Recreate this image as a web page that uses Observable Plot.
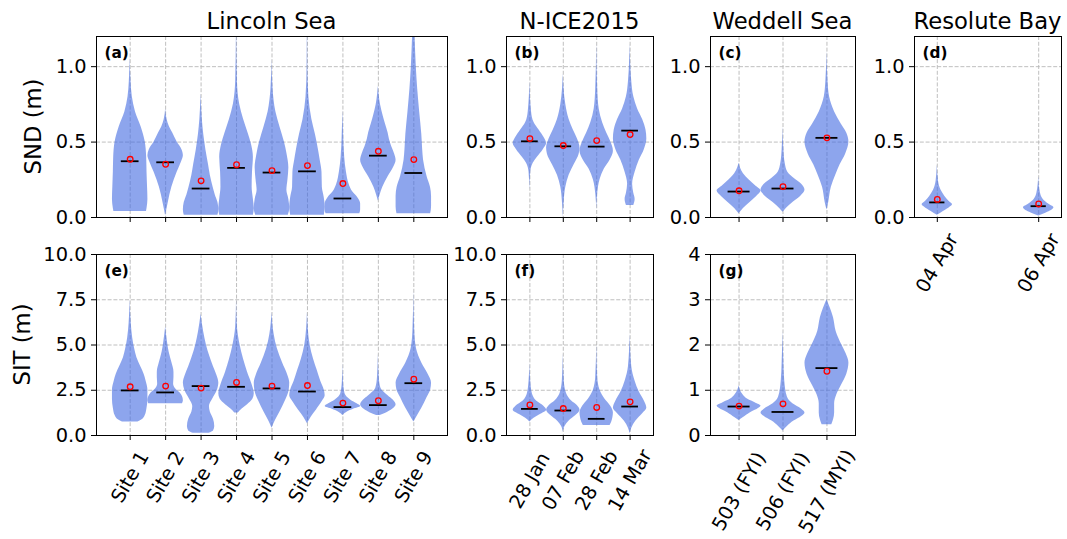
<!DOCTYPE html>
<html><head><meta charset="utf-8">
<script src="https://cdn.jsdelivr.net/npm/d3@7"></script>
<script src="https://cdn.jsdelivr.net/npm/@observablehq/plot@0.6"></script>
<style>
body{margin:0;background:#fff;}
#fig{position:relative;width:1067px;height:539px;overflow:hidden;font-family:"DejaVu Sans",sans-serif;background:#fff;}
#fig svg{position:absolute;overflow:visible;}
</style></head><body><div id="fig"></div>
<script>
// ---------------- data ----------------
const lincolnSites = ["Site 1","Site 2","Site 3","Site 4","Site 5","Site 6","Site 7","Site 8","Site 9"];
const niceDates = ["28 Jan","07 Feb","28 Feb","14 Mar"];
const weddellBuoys = ["503 (FYI)","506 (FYI)","517 (MYI)"];
const resoluteDates = ["04 Apr","06 Apr"];

const sndTicks = [0, 0.5, 1.0];
const sitTicks = [0, 2.5, 5.0, 7.5, 10.0];
const weddellSitTicks = [0, 1, 2, 3, 4];

// medians / means
const lincolnSndMedian = [0.373,0.366,0.192,0.329,0.298,0.306,0.126,0.410,0.295];
const lincolnSndMean   = [0.386,0.353,0.243,0.350,0.311,0.344,0.225,0.439,0.384];
const niceSndMedian = [0.505,0.472,0.470,0.576];
const niceSndMean   = [0.523,0.477,0.510,0.550];
const weddellSndMedian = [0.172,0.192,0.528];
const weddellSndMean   = [0.177,0.205,0.528];
const resoluteSndMedian = [0.100,0.075];
const resoluteSndMean   = [0.120,0.090];
const lincolnSitMedian = [2.49,2.38,2.73,2.69,2.60,2.43,1.57,1.68,2.89];
const lincolnSitMean   = [2.69,2.73,2.62,2.93,2.73,2.76,1.79,1.92,3.11];
const niceSitMedian = [1.47,1.38,0.92,1.60];
const niceSitMean   = [1.69,1.49,1.55,1.86];
const weddellSitMedian = [0.64,0.52,1.49];
const weddellSitMean   = [0.65,0.70,1.42];

// violin outlines: [value, relative half-width (1 = widest)]
const lincolnSndShape = [
  [[0.04,0.92],[0.06,0.95],[0.12,1.0],[0.2,0.98],[0.3,0.95],[0.4,0.93],[0.5,0.85],[0.6,0.62],[0.7,0.3],[0.8,0.12],[0.9,0.05],[1.06,0]],
  [[0.01,0],[0.1,0.15],[0.2,0.35],[0.3,0.65],[0.37,0.9],[0.41,1.0],[0.45,0.92],[0.5,0.65],[0.56,0.4],[0.6,0.22],[0.65,0.08],[0.72,0]],
  [[0.015,0.95],[0.05,1.0],[0.1,0.95],[0.15,0.8],[0.2,0.68],[0.28,0.52],[0.35,0.42],[0.45,0.27],[0.55,0.15],[0.65,0.07],[0.82,0]],
  [[0.015,0.95],[0.06,1.0],[0.12,0.95],[0.2,0.88],[0.3,0.9],[0.4,0.95],[0.48,0.85],[0.56,0.65],[0.65,0.4],[0.75,0.18],[0.9,0.05],[1.2,0.01]],
  [[0.015,0.92],[0.06,1.0],[0.12,0.95],[0.18,0.84],[0.25,0.9],[0.33,0.95],[0.42,0.85],[0.5,0.7],[0.6,0.45],[0.7,0.22],[0.85,0.06],[1.05,0]],
  [[0.015,0.95],[0.07,1.0],[0.13,0.95],[0.2,0.84],[0.3,0.82],[0.38,0.72],[0.45,0.62],[0.55,0.45],[0.65,0.25],[0.8,0.08],[1.0,0.02],[1.2,0.01]],
  [[0.025,0.95],[0.05,1.0],[0.09,1.0],[0.13,0.85],[0.17,0.55],[0.22,0.35],[0.3,0.2],[0.4,0.1],[0.55,0.04],[0.71,0]],
  [[0.11,0],[0.15,0.1],[0.2,0.25],[0.27,0.55],[0.33,0.85],[0.38,1.0],[0.42,0.92],[0.47,0.75],[0.52,0.62],[0.56,0.55],[0.62,0.4],[0.67,0.28],[0.75,0.12],[0.87,0]],
  [[0.025,0.95],[0.07,1.0],[0.14,1.0],[0.2,0.94],[0.27,0.75],[0.38,0.55],[0.45,0.5],[0.55,0.45],[0.7,0.33],[0.85,0.22],[1.0,0.14],[1.2,0.07]]
];
const niceSndShape = [
  [[0.18,0],[0.3,0.05],[0.36,0.2],[0.4,0.45],[0.45,0.8],[0.49,1.0],[0.53,0.85],[0.58,0.55],[0.63,0.25],[0.7,0.1],[0.9,0]],
  [[0.0,0],[0.1,0.05],[0.2,0.15],[0.28,0.35],[0.35,0.65],[0.42,0.95],[0.46,1.0],[0.52,0.85],[0.58,0.6],[0.65,0.35],[0.75,0.15],[0.95,0]],
  [[0.05,0],[0.15,0.05],[0.25,0.2],[0.32,0.45],[0.38,0.8],[0.44,1.0],[0.5,0.85],[0.56,0.6],[0.63,0.35],[0.72,0.15],[0.85,0.06],[1.15,0]],
  [[0.08,0.22],[0.12,0.3],[0.16,0.22],[0.22,0.15],[0.3,0.3],[0.38,0.55],[0.45,0.85],[0.52,1.0],[0.58,0.95],[0.65,0.75],[0.72,0.45],[0.8,0.22],[0.9,0.1],[1.15,0]]
];
const weddellSndShape = [
  [[0.025,0],[0.06,0.2],[0.1,0.5],[0.14,0.8],[0.175,1.0],[0.21,0.75],[0.25,0.45],[0.29,0.2],[0.33,0.06],[0.36,0]],
  [[0.035,0],[0.06,0.15],[0.1,0.45],[0.14,0.8],[0.18,1.0],[0.22,0.85],[0.26,0.5],[0.3,0.22],[0.36,0.1],[0.45,0.04],[0.6,0]],
  [[0.05,0],[0.1,0.08],[0.2,0.2],[0.28,0.4],[0.35,0.6],[0.42,0.85],[0.5,1.0],[0.56,0.9],[0.62,0.65],[0.7,0.35],[0.8,0.12],[0.9,0.05],[1.1,0]]
];
const resoluteSndShape = [
  [[0.015,0],[0.04,0.4],[0.07,0.85],[0.085,1.0],[0.11,0.75],[0.14,0.5],[0.18,0.25],[0.24,0.08],[0.35,0]],
  [[0.01,0],[0.03,0.5],[0.065,1.0],[0.09,0.65],[0.12,0.3],[0.16,0.12],[0.27,0]]
];
const lincolnSitShape = [
  [[0.74,0.44],[0.85,0.65],[1.1,0.85],[1.5,0.95],[2.0,1.0],[2.5,1.0],[3.0,0.9],[3.4,0.78],[3.8,0.6],[4.3,0.38],[4.8,0.25],[5.4,0.14],[6.2,0.06],[7.5,0]],
  [[1.75,0.95],[1.9,1.0],[2.1,0.97],[2.35,0.82],[2.6,0.55],[2.85,0.45],[3.2,0.47],[3.5,0.47],[4.0,0.36],[4.6,0.2],[5.2,0.1],[6.0,0]],
  [[0.13,0.45],[0.25,0.7],[0.5,0.77],[0.9,0.7],[1.3,0.52],[1.6,0.47],[2.0,0.65],[2.5,0.92],[2.9,1.0],[3.3,0.9],[3.8,0.7],[4.4,0.48],[5.0,0.3],[5.7,0.15],[6.7,0]],
  [[1.25,0.1],[1.45,0.3],[1.7,0.62],[2.0,0.92],[2.3,1.0],[2.8,0.88],[3.5,0.62],[4.2,0.4],[5.0,0.2],[6.0,0.05],[7.5,0]],
  [[0.4,0],[0.8,0.18],[1.3,0.45],[1.9,0.75],[2.5,0.97],[2.9,1.0],[3.3,0.9],[4.0,0.6],[4.8,0.3],[5.6,0.12],[6.8,0]],
  [[0.65,0],[1.0,0.2],[1.4,0.5],[1.9,0.85],[2.2,1.0],[2.5,0.95],[3.0,0.75],[3.6,0.55],[4.2,0.35],[5.0,0.15],[6.8,0]],
  [[1.1,0],[1.3,0.25],[1.45,0.6],[1.6,1.0],[1.75,0.8],[1.95,0.45],[2.3,0.12],[3.0,0.03],[4.0,0]],
  [[1.1,0.1],[1.25,0.45],[1.45,0.8],[1.7,1.0],[1.95,0.85],[2.2,0.55],[2.6,0.15],[3.2,0.05],[4.5,0]],
  [[0.75,0],[1.0,0.15],[1.5,0.45],[2.1,0.75],[2.5,0.95],[2.9,1.0],[3.4,0.8],[4.0,0.45],[4.8,0.15],[5.8,0.05],[8.0,0]]
];
const niceSitShape = [
  [[0.75,0],[0.95,0.25],[1.15,0.6],[1.4,1.0],[1.6,0.85],[1.9,0.4],[2.3,0.15],[3.0,0.05],[4.0,0]],
  [[0.18,0],[0.5,0.1],[0.8,0.35],[1.1,0.75],[1.4,1.0],[1.65,0.85],[1.9,0.5],[2.3,0.2],[3.0,0.06],[4.5,0]],
  [[0.55,0.8],[0.75,0.9],[1.0,0.97],[1.25,1.0],[1.6,0.85],[2.0,0.5],[2.5,0.2],[3.2,0.06],[5.0,0]],
  [[0.1,0],[0.4,0.1],[0.8,0.35],[1.2,0.75],[1.5,1.0],[1.9,0.85],[2.4,0.55],[3.0,0.3],[3.8,0.1],[5.6,0]]
];
const weddellSitShape = [
  [[0.33,0],[0.4,0.2],[0.5,0.5],[0.6,0.9],[0.65,1.0],[0.72,0.75],[0.8,0.4],[0.9,0.18],[1.1,0]],
  [[0.1,0],[0.2,0.2],[0.32,0.5],[0.42,0.85],[0.5,1.0],[0.58,0.85],[0.7,0.45],[0.85,0.2],[1.2,0.08],[1.6,0.04],[2.3,0]],
  [[0.24,0.22],[0.35,0.3],[0.5,0.35],[0.7,0.35],[0.9,0.45],[1.1,0.65],[1.35,0.9],[1.6,1.0],[1.8,0.88],[2.0,0.68],[2.3,0.42],[2.6,0.3],[3.0,0]]
];

// ---------------- drawing ----------------
const fig = document.getElementById("fig");
const FS = 19.4;

function panel(o) {
  const pos = o.cats.map((_, i) => i + 1);
  const rows = o.shapes.flatMap((s, i) => s.map(([v, r]) => ({i, p: i + 1, v, r})));
  const mL = 70, mR = 12, mT = 10, mB = 130;
  const vw = o.vw;
  const marks = [
    Plot.ruleY(o.yTicks, {y: d => d, stroke: "#b8b8b8", strokeDasharray: "4,1.8", strokeWidth: 0.9}),
    Plot.ruleX(pos, {x: d => d, stroke: "#b8b8b8", strokeDasharray: "4,1.8", strokeWidth: 0.9}),
    Plot.areaX(rows, {y: "v", x1: d => d.p - d.r * vw / 2, x2: d => d.p + d.r * vw / 2, z: "i",
      fill: "royalblue", fillOpacity: 0.6, curve: "monotone-y", clip: true}),
    Plot.ruleY(o.medians, {y: d => d, x1: (d, i) => i + 1 - vw / 4, x2: (d, i) => i + 1 + vw / 4, stroke: "black", strokeWidth: 1.8}),
    Plot.dot(o.means, {x: (d, i) => i + 1, y: d => d, r: 2.8, stroke: "red", fill: "none", strokeWidth: 1.3}),
    Plot.frame({stroke: "black", strokeWidth: 1}),
    Plot.axisY({ticks: o.yTicks, tickFormat: o.yFmt, tickSize: 5, tickPadding: 5, label: null, fontSize: FS}),
    Plot.axisX({ticks: pos, tickSize: 5, tickFormat: () => "", label: null}),
    Plot.text([o.label], {frameAnchor: "top-left", dx: 8, dy: o.labelDy, textAnchor: "start", lineAnchor: "top",
      fontWeight: "bold", fontSize: 15.3, fill: "black"})
  ];
  if (o.xLabels) marks.push(Plot.text(o.cats, {x: (d, i) => i + 1, text: d => d, frameAnchor: "bottom", rotate: -60,
    textAnchor: "middle", lineAnchor: "middle", dy: o.xLabelDy, fontSize: FS, fill: "black"}));
  const chart = Plot.plot({
    width: o.w + mL + mR, height: o.h + mT + mB,
    marginLeft: mL, marginRight: mR, marginTop: mT, marginBottom: mB,
    x: {domain: o.xDomain, label: null},
    y: {domain: o.yDomain, label: null},
    style: {fontFamily: "DejaVu Sans", fontSize: FS + "px", color: "black", background: "transparent", overflow: "visible"},
    marks
  });
  chart.style.left = (o.left - mL) + "px";
  chart.style.top = (o.top - mT) + "px";
  fig.append(chart);
}

const colA = {left: 96, w: 351}, colB = {left: 506, w: 147}, colC = {left: 710, w: 145}, colD = {left: 914, w: 147};
const row1 = {top: 36, h: 181}, row2 = {top: 254, h: 181};
const f1 = d3.format(".1f"), f0 = d3.format("d");

panel({...colA, ...row1, xDomain: [0.05, 9.95], yDomain: [0, 1.2], yTicks: sndTicks, yFmt: f1, cats: lincolnSites,
  shapes: lincolnSndShape, medians: lincolnSndMedian, means: lincolnSndMean, vw: 1, label: "(a)", labelDy: 11});
panel({...colB, ...row1, xDomain: [0.3, 4.7], yDomain: [0, 1.2], yTicks: sndTicks, yFmt: f1, cats: niceDates,
  shapes: niceSndShape, medians: niceSndMedian, means: niceSndMean, vw: 1, label: "(b)", labelDy: 11});
panel({...colC, ...row1, xDomain: [0.35, 3.65], yDomain: [0, 1.2], yTicks: sndTicks, yFmt: f1, cats: weddellBuoys,
  shapes: weddellSndShape, medians: weddellSndMedian, means: weddellSndMean, vw: 1, label: "(c)", labelDy: 11});
panel({...colD, ...row1, xDomain: [0.775, 2.225], yDomain: [0, 1.2], yTicks: sndTicks, yFmt: f1, cats: resoluteDates,
  shapes: resoluteSndShape, medians: resoluteSndMedian, means: resoluteSndMean, vw: 0.3, label: "(d)", labelDy: 11,
  xLabels: true, xLabelDy: 45.5});
panel({...colA, ...row2, xDomain: [0.05, 9.95], yDomain: [0, 10], yTicks: sitTicks, yFmt: f1, cats: lincolnSites,
  shapes: lincolnSitShape, medians: lincolnSitMedian, means: lincolnSitMean, vw: 1, label: "(e)", labelDy: 11,
  xLabels: true, xLabelDy: 41.6});
panel({...colB, ...row2, xDomain: [0.3, 4.7], yDomain: [0, 10], yTicks: sitTicks, yFmt: f1, cats: niceDates,
  shapes: niceSitShape, medians: niceSitMedian, means: niceSitMean, vw: 1, label: "(f)", labelDy: 11,
  xLabels: true, xLabelDy: 45});
panel({...colC, ...row2, xDomain: [0.35, 3.65], yDomain: [0, 4], yTicks: weddellSitTicks, yFmt: f0, cats: weddellBuoys,
  shapes: weddellSitShape, medians: weddellSitMedian, means: weddellSitMean, vw: 1, label: "(g)", labelDy: 11,
  xLabels: true, xLabelDy: 56});

// titles and y-axis labels
const ov = d3.select(fig).append("svg").attr("width", 1067).attr("height", 539)
  .style("left", "0px").style("top", "0px").style("pointer-events", "none")
  .attr("font-family", "DejaVu Sans").attr("font-size", 22.7).attr("fill", "black");
const titles = [["Lincoln Sea", colA], ["N-ICE2015", colB], ["Weddell Sea", colC], ["Resolute Bay", colD]];
titles.forEach(([t, c]) => ov.append("text").attr("x", c.left + c.w / 2).attr("y", 28.5).attr("text-anchor", "middle").text(t));
ov.append("text").attr("transform", `translate(41,${row1.top + row1.h / 2}) rotate(-90)`).attr("text-anchor", "middle").text("SND (m)");
ov.append("text").attr("transform", `translate(30,${row2.top + row2.h / 2}) rotate(-90)`).attr("text-anchor", "middle").text("SIT (m)");
</script>
</body></html>
